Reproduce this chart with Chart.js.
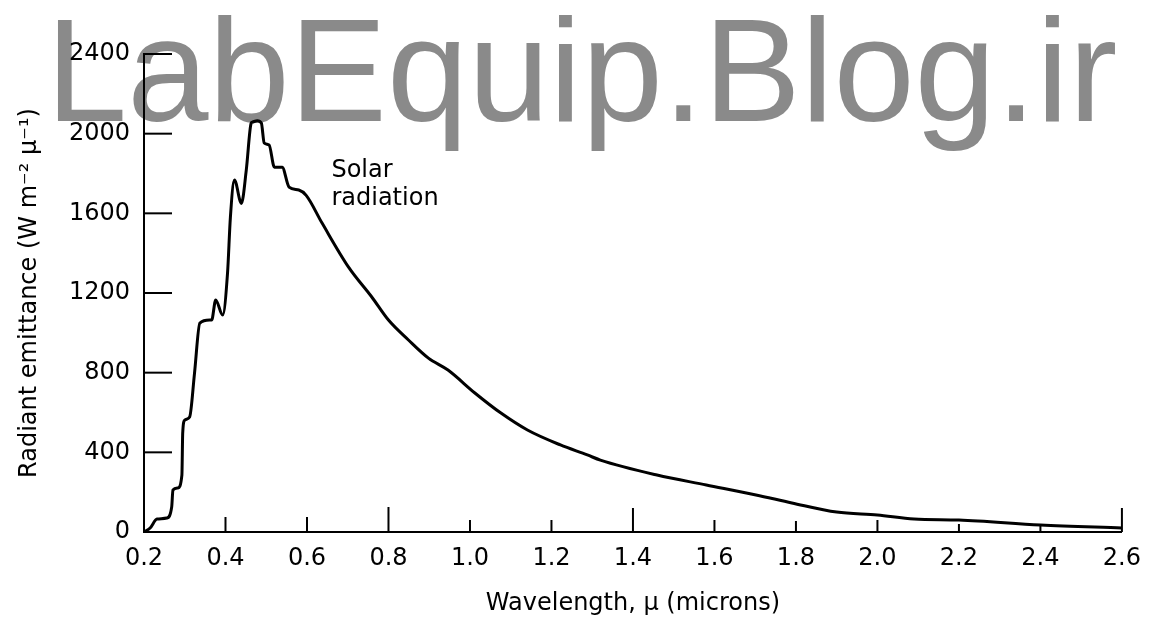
<!DOCTYPE html>
<html>
<head>
<meta charset="utf-8">
<script src="https://cdn.jsdelivr.net/npm/chart.js"></script>
<style>
  body { margin:0; background:#fff; }
  #wrap { width:1153px; height:621px; position:relative; }
</style>
</head>
<body>
<div id="wrap"><canvas id="chart"></canvas></div>
<script>
// wavelength (microns) and radiant emittance (W m-2 u-1)
const wavelength = [0.2, 0.215, 0.232, 0.256, 0.268, 0.271, 0.283, 0.293, 0.295, 0.3,
  0.312, 0.324, 0.337, 0.361, 0.366, 0.376, 0.393, 0.405, 0.412, 0.422,
  0.439, 0.451, 0.463, 0.466, 0.478, 0.488, 0.495, 0.507, 0.52, 0.539,
  0.556, 0.58, 0.598, 0.637, 0.702, 0.759, 0.8, 0.849, 0.898, 0.946,
  1.012, 1.076, 1.141, 1.222, 1.288, 1.32, 1.459, 1.58, 1.702, 1.79,
  1.9, 2.0, 2.09, 2.2, 2.4, 2.6];
const emittance = [0, 20, 65, 70, 126, 211, 221, 286, 497, 562,
  577, 798, 1049, 1064, 1064, 1165, 1089, 1300, 1580, 1767,
  1650, 1817, 2053, 2058, 2065, 2053, 1953, 1943, 1832, 1832,
  1732, 1717, 1690, 1551, 1330, 1180, 1064, 964, 873, 813,
  698, 597, 512, 437, 387, 361, 286, 236, 186, 146,
  100, 85, 65, 60, 35, 20];

const xTicks = [0.2, 0.4, 0.6, 0.8, 1.0, 1.2, 1.4, 1.6, 1.8, 2.0, 2.2, 2.4, 2.6];
const yTicks = [0, 400, 800, 1200, 1600, 2000, 2400];
const curveLabel = ["Solar", "radiation"];
const watermark = "LabEquip.Blog.ir";

// inward tick lengths (px), one per x tick
const xTickLen = [0, 15, 15, 25, 12, 12, 24, 12, 11, 12, 8, 8, 24];
const yTickLen = 28;

const txt = "DejaVu Sans";

const points = wavelength.map((w, i) => ({x: w, y: emittance[i]}));

// grey watermark behind everything
const markPlugin = {
  id: "mark",
  beforeDraw(chart) {
    let c = chart.ctx;
    c.save();
    c.fillStyle = "#8a8a8a";
    c.font = "146px 'Liberation Sans'";
    c.textBaseline = "alphabetic";
    c.fillText(watermark, 46, 121);
    c.restore();
  }
};

// ticks pointing into the plot + the curve label
const tickPlugin = {
  id: "inticks",
  afterDraw(chart) {
    let c = chart.ctx;
    let xs = chart.scales.x, ys = chart.scales.y;
    let a = chart.chartArea;
    c.save();
    c.strokeStyle = "#000";
    c.lineWidth = 2;
    xTicks.forEach((v, i) => {
      if (!xTickLen[i]) return;
      let px = xs.getPixelForValue(v);
      c.beginPath();
      c.moveTo(px, a.bottom);
      c.lineTo(px, a.bottom - xTickLen[i]);
      c.stroke();
    });
    yTicks.forEach(v => {
      if (v == 0) return;
      let py = ys.getPixelForValue(v);
      c.beginPath();
      c.moveTo(a.left, py);
      c.lineTo(a.left + yTickLen, py);
      c.stroke();
    });
    c.fillStyle = "#000";
    c.font = "24px '" + txt + "'";
    c.textAlign = "left";
    c.textBaseline = "alphabetic";
    c.fillText(curveLabel[0], xs.getPixelForValue(0.66), ys.getPixelForValue(1782));
    c.fillText(curveLabel[1], xs.getPixelForValue(0.66), ys.getPixelForValue(1641));
    c.restore();
  }
};

const ctx = document.getElementById("chart").getContext("2d");
const chart = new Chart(ctx, {
  type: "line",
  data: {
    datasets: [{
      label: "Solar radiation",
      data: points,
      borderColor: "#000",
      borderWidth: 3,
      pointRadius: 0,
      cubicInterpolationMode: "monotone",
      fill: false
    }]
  },
  options: {
    responsive: true,
    maintainAspectRatio: false,
    animation: false,
    events: [],
    layout: { padding: { top: 54, right: 25, left: 0, bottom: 0 } },
    plugins: { legend: { display: false }, tooltip: { enabled: false } },
    scales: {
      x: {
        type: "linear",
        min: 0.2,
        max: 2.6,
        afterFit(s) { s.height = 89; },
        afterBuildTicks(s) { s.ticks = xTicks.map(v => ({value: v})); },
        grid: { display: false, drawTicks: false },
        border: { display: true, color: "#000", width: 2 },
        ticks: {
          color: "#000",
          padding: 12,
          font: { family: txt, size: 24 },
          callback: v => Number(v).toFixed(1)
        },
        title: {
          display: true,
          text: "Wavelength, μ (microns)",
          color: "#000",
          font: { family: txt, size: 24 },
          padding: { top: 0, bottom: 3 }
        }
      },
      y: {
        min: 0,
        max: 2400,
        afterFit(s) { s.width = 144; },
        afterBuildTicks(s) { s.ticks = yTicks.map(v => ({value: v})); },
        grid: { display: false, drawTicks: false },
        border: { display: true, color: "#000", width: 2 },
        ticks: {
          color: "#000",
          padding: 14,
          font: { family: txt, size: 24 },
          callback: v => String(v)
        },
        title: {
          display: true,
          text: "Radiant emittance (W m⁻² μ⁻¹)",
          color: "#000",
          font: { family: txt, size: 24 },
          padding: { top: 15, bottom: 0 }
        }
      }
    }
  },
  plugins: [markPlugin, tickPlugin]
});
</script>
</body>
</html>
